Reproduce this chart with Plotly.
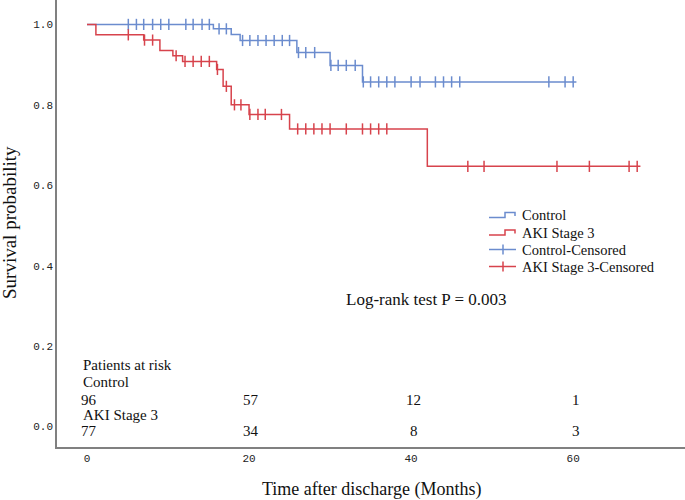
import numpy as np
import plotly.graph_objects as go

# ---------------- data ----------------
group_names = ["Control", "AKI Stage 3"]

control_event_times = [15.6, 17.8, 18.9, 25.9, 30.0, 34.0]
control_surv = [0.989, 0.975, 0.960, 0.930, 0.898, 0.857]
control_censor_times = [5.1, 6.1, 7.0, 8.1, 9.1, 10.1, 12.2, 13.1, 14.2, 15.1,
                        16.3, 17.2, 19.2, 20.1, 21.1, 22.1, 23.1, 24.1, 25.0,
                        26.1, 27.0, 28.1, 30.1, 31.0, 32.0, 33.1, 34.1, 35.0,
                        36.0, 37.0, 38.0, 40.0, 41.1, 43.0, 44.0, 45.0, 46.0,
                        57.0, 59.0, 60.0]
control_end = 60.4

aki_event_times = [1.1, 7.0, 9.0, 10.6, 11.8, 16.0, 16.8, 17.8, 20.0, 25.0, 42.0]
aki_surv = [0.974, 0.961, 0.935, 0.922, 0.908, 0.888, 0.846, 0.800, 0.776, 0.740, 0.647]
aki_censor_times = [5.1, 7.1, 8.1, 11.0, 12.1, 13.1, 14.1, 15.1, 16.1, 17.2,
                    18.2, 19.0, 20.1, 21.1, 22.0, 24.0, 26.0, 27.0, 28.0, 29.0,
                    30.0, 32.0, 34.0, 35.0, 36.0, 37.0, 47.0, 49.0, 58.0, 62.0,
                    66.9, 67.9]
aki_end = 68.3

risk_times = [0, 20, 40, 60]
control_at_risk = [96, 57, 12, 1]
aki_at_risk = [77, 34, 8, 3]

legend_labels = ["Control", "AKI Stage 3", "Control-Censored", "AKI Stage 3-Censored"]
logrank_text = "Log-rank test P = 0.003"

x_ticks = [0, 20, 40, 60]
y_ticks = [0.0, 0.2, 0.4, 0.6, 0.8, 1.0]

# ---------------- styling ----------------
BLUE = "#6b8cce"
RED = "#d7434c"
SERIF = "Liberation Serif"
MONO = "Liberation Mono"
W, H = 685, 500
ML, MR, MT, MB = 57, 0, 0, 53
PW, PH = W - ML - MR, H - MT - MB


def px2paper_x(px):
    return (px - ML) / PW


def py2paper_y(py):
    return (H - MB - py) / PH


def km_steps(times, surv, end):
    xs = [0.0] + list(times) + [end]
    ys = [1.0] + list(surv) + [surv[-1]]
    return xs, ys


def surv_at(ts, times, surv):
    idx = np.searchsorted(np.array(times), np.array(ts), side="right")
    vals = np.concatenate([[1.0], np.array(surv)])
    return vals[idx]


fig = go.Figure()

series = [
    (control_event_times, control_surv, control_censor_times, control_end, BLUE),
    (aki_event_times, aki_surv, aki_censor_times, aki_end, RED),
]
for (ev, sv, cens, end, col), name in zip(series, group_names):
    xs, ys = km_steps(ev, sv, end)
    fig.add_trace(go.Scatter(x=xs, y=ys, mode="lines", line=dict(color=col, width=1.5, shape="hv"),
                             name=name, showlegend=False, hoverinfo="skip"))
    fig.add_trace(go.Scatter(x=cens, y=surv_at(cens, ev, sv), mode="markers",
                             marker=dict(symbol="line-ns", size=8, color=col,
                                         line=dict(color=col, width=1.5)),
                             name=name + "-Censored", showlegend=False, hoverinfo="skip"))

annotations = []
# risk table
label_x = -0.75
row_specs = [("Patients at risk", 0.153), (group_names[0], 0.111), (group_names[1], 0.028)]
for txt, yv in row_specs:
    annotations.append(dict(x=label_x, y=yv, xref="x", yref="y", text=txt, showarrow=False,
                            xanchor="left", yanchor="middle", font=dict(family=SERIF, size=15, color="#111")))
for t, c, a in zip(risk_times, control_at_risk, aki_at_risk):
    annotations.append(dict(x=t + 0.3, y=0.067, xref="x", yref="y", text=str(c), showarrow=False,
                            xanchor="center", yanchor="middle", font=dict(family=SERIF, size=15, color="#111")))
    annotations.append(dict(x=t + 0.3, y=-0.011, xref="x", yref="y", text=str(a), showarrow=False,
                            xanchor="center", yanchor="middle", font=dict(family=SERIF, size=15, color="#111")))

# log-rank text
annotations.append(dict(x=px2paper_x(426), y=py2paper_y(300), xref="paper", yref="paper", text=logrank_text,
                        showarrow=False, xanchor="center", yanchor="middle",
                        font=dict(family=SERIF, size=17, color="#111")))

# axis titles
annotations.append(dict(x=px2paper_x(371), y=py2paper_y(490), xref="paper", yref="paper",
                        text="Time after discharge (Months)", showarrow=False, xanchor="center",
                        yanchor="middle", font=dict(family=SERIF, size=18, color="#111")))
annotations.append(dict(x=px2paper_x(9), y=py2paper_y(223), xref="paper", yref="paper",
                        text="Survival probability", showarrow=False, textangle=-90, xanchor="center",
                        yanchor="middle", font=dict(family=SERIF, size=19, color="#111")))

# custom legend
shapes = []
leg_rows = [215, 232.5, 249.5, 266.5]
leg_cols = [BLUE, RED, BLUE, RED]
x0, x1, xm = 489, 516, 503
for i, (lab, py, col) in enumerate(zip(legend_labels, leg_rows, leg_cols)):
    annotations.append(dict(x=px2paper_x(520), y=py2paper_y(py), xref="paper", yref="paper", text=lab,
                            showarrow=False, xanchor="left", yanchor="middle",
                            font=dict(family=SERIF, size=14.5, color="#111")))
    if i < 2:
        path = "M {a},{b} L {c},{b} L {c},{d} L {e},{d} L {e},{f}".format(
            a=px2paper_x(x0), b=py2paper_y(py + 2.5), c=px2paper_x(505), d=py2paper_y(py - 2.5),
            e=px2paper_x(515), f=py2paper_y(py + 1))
        shapes.append(dict(type="path", path=path, xref="paper", yref="paper",
                           line=dict(color=col, width=1.5)))
    else:
        shapes.append(dict(type="line", x0=px2paper_x(x0), x1=px2paper_x(x1), y0=py2paper_y(py),
                           y1=py2paper_y(py), xref="paper", yref="paper", line=dict(color=col, width=1.5)))
        shapes.append(dict(type="line", x0=px2paper_x(xm), x1=px2paper_x(xm), y0=py2paper_y(py - 5),
                           y1=py2paper_y(py + 5), xref="paper", yref="paper", line=dict(color=col, width=1.5)))

fig.update_layout(
    width=W, height=H,
    margin=dict(l=ML, r=MR, t=MT, b=MB, pad=0),
    paper_bgcolor="white", plot_bgcolor="white",
    showlegend=False,
    annotations=annotations,
    shapes=shapes,
    xaxis=dict(range=[-3.70, 73.8], tickvals=x_ticks, showline=True, linecolor="#808080", linewidth=1.5,
               showgrid=False, zeroline=False, ticks="", tickfont=dict(family=MONO, size=11, color="#222")),
    yaxis=dict(range=[-0.051, 1.0607], tickvals=y_ticks, tickformat=".1f", showline=True,
               linecolor="#808080", linewidth=1.5, showgrid=False, zeroline=False, ticks="",
               tickfont=dict(family=MONO, size=11, color="#222")),
)

fig.write_html("out.html", config={"displayModeBar": False},
               post_script="document.body.style.margin='0px';document.body.style.overflow='hidden';")
